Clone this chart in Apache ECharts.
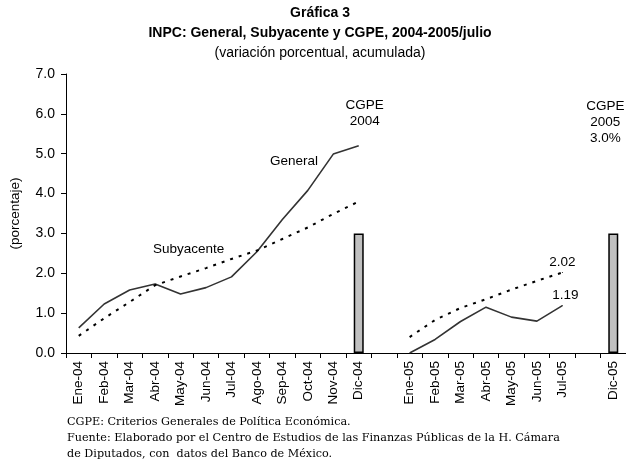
<!DOCTYPE html>
<html>
<head>
<meta charset="utf-8">
<script src="https://cdn.jsdelivr.net/npm/echarts@6/dist/echarts.min.js"></script>
<style>
  html, body { margin: 0; padding: 0; background: #fff; }
  #chart { width: 626px; height: 464px; }
</style>
</head>
<body>
<div id="chart"></div>
<script>
// meses (con huecos entre 2004 y 2005, y antes de Dic-05)
var meses = ['Ene-04', 'Feb-04', 'Mar-04', 'Abr-04', 'May-04', 'Jun-04', 'Jul-04', 'Ago-04', 'Sep-04', 'Oct-04', 'Nov-04', 'Dic-04',
  '', 'Ene-05', 'Feb-05', 'Mar-05', 'Abr-05', 'May-05', 'Jun-05', 'Jul-05', '', 'Dic-05'];

// INPC general, variacion acumulada
var general = [0.63, 1.23, 1.58, 1.73, 1.48, 1.64, 1.91, 2.54, 3.35, 4.08, 4.99, 5.20,
  null, 0.00, 0.34, 0.79, 1.15, 0.90, 0.80, 1.19, null, null];

// INPC subyacente, variacion acumulada
var subyacente = [0.43, 0.87, 1.28, 1.70, 1.92, 2.13, 2.36, 2.57, 2.86, 3.15, 3.49, 3.80,
  null, 0.40, 0.83, 1.13, 1.35, 1.59, 1.81, 2.02, null, null];

// meta CGPE (solo en Dic-04 y Dic-05)
var cgpe = [null, null, null, null, null, null, null, null, null, null, null, 3.0,
  null, null, null, null, null, null, null, null, null, 3.0];

var yTicks = [0, 7, 1]; // min, max, intervalo

var font = 'Liberation Sans, Arial, sans-serif';

var myChart = echarts.init(document.getElementById('chart'));

// etiqueta solo en el ultimo punto (Jul-05)
function ultimo(arr, dx, color) {
  return arr.map(function (v, i) {
    if (i === 19) {
      return {
        value: v,
        symbolSize: 1,
        itemStyle: { color: color },
        label: {
          show: true, position: 'top', distance: 3, offset: [dx, 0],
          formatter: function (p) { return p.value.toFixed(2); },
          color: '#000', fontFamily: font, fontSize: 13.5
        }
      };
    }
    return v;
  });
}

var barras = cgpe.map(function (v, i) {
  if (v === null) return null;
  var txt = i === 11 ? 'CGPE\n2004' : 'CGPE\n2005\n3.0%';
  return {
    value: v,
    label: {
      show: true, position: 'top',
      distance: i === 11 ? 104 : 87,
      offset: [i === 11 ? 6 : -8, 0],
      formatter: txt, lineHeight: 16,
      color: '#000', fontFamily: font, fontSize: 13.5
    }
  };
});

var option = {
  animation: false,
  backgroundColor: '#fff',
  grid: { left: 64, top: 74, width: 565, height: 279 },
  xAxis: {
    type: 'category',
    data: meses,
    boundaryGap: true,
    axisLine: { lineStyle: { color: '#000', width: 1 } },
    axisTick: { show: true, length: 5, inside: false, lineStyle: { color: '#000' } },
    axisLabel: { rotate: 90, color: '#000', fontFamily: font, fontSize: 13.5, margin: 8, interval: 0 },
    splitLine: { show: false }
  },
  yAxis: {
    type: 'value',
    min: yTicks[0], max: yTicks[1], interval: yTicks[2],
    name: '(porcentaje)',
    nameLocation: 'middle',
    nameGap: 44,
    nameRotate: 90,
    nameTextStyle: { fontFamily: font, fontSize: 13.5, color: '#000' },
    axisLine: { show: true, lineStyle: { color: '#000', width: 1 } },
    axisTick: { show: true, length: 5, lineStyle: { color: '#000' } },
    axisLabel: { color: '#000', fontFamily: font, fontSize: 14, margin: 11,
      formatter: function (v) { return v.toFixed(1); } },
    splitLine: { show: false }
  },
  series: [
    {
      name: 'CGPE',
      type: 'bar',
      data: barras,
      barWidth: 10,
      itemStyle: { color: '#c0c0c0', borderColor: '#000', borderWidth: 1.5 }
    },
    {
      name: 'General',
      type: 'line',
      data: ultimo(general, 3, '#333'),
      symbol: 'circle',
      symbolSize: 0,
      lineStyle: { color: '#333', width: 1.6 }
    },
    {
      name: 'Subyacente',
      type: 'line',
      data: ultimo(subyacente, 0, '#000'),
      symbol: 'circle',
      symbolSize: 0,
      lineStyle: { color: '#000', width: 2, type: [3, 6] }
    }
  ],
  graphic: [
    { type: 'text', x: 320, y: 13, style: { text: 'Gráfica 3', font: 'bold 14px ' + font, fill: '#000', align: 'center', verticalAlign: 'middle' } },
    { type: 'text', x: 320, y: 33, style: { text: 'INPC: General, Subyacente y CGPE, 2004-2005/julio', font: 'bold 14px ' + font, fill: '#000', align: 'center', verticalAlign: 'middle' } },
    { type: 'text', x: 320, y: 53, style: { text: '(variación porcentual, acumulada)', font: '14px ' + font, fill: '#000', align: 'center', verticalAlign: 'middle' } },
    { type: 'text', left: 270, top: 154, style: { text: 'General', font: '13.5px ' + font, fill: '#000' } },
    { type: 'text', left: 153, top: 242, style: { text: 'Subyacente', font: '13.5px ' + font, fill: '#000' } },
    {
      type: 'text', left: 67, top: 414,
      style: {
        text: 'CGPE: Criterios Generales de Política Económica.\n' +
          'Fuente: Elaborado por el Centro de Estudios de las Finanzas Públicas de la H. Cámara\n' +
          'de Diputados, con  datos del Banco de México.',
        font: '11.2px DejaVu Serif, serif', fill: '#000', lineHeight: 16
      }
    }
  ]
};

myChart.setOption(option);
</script>
</body>
</html>
